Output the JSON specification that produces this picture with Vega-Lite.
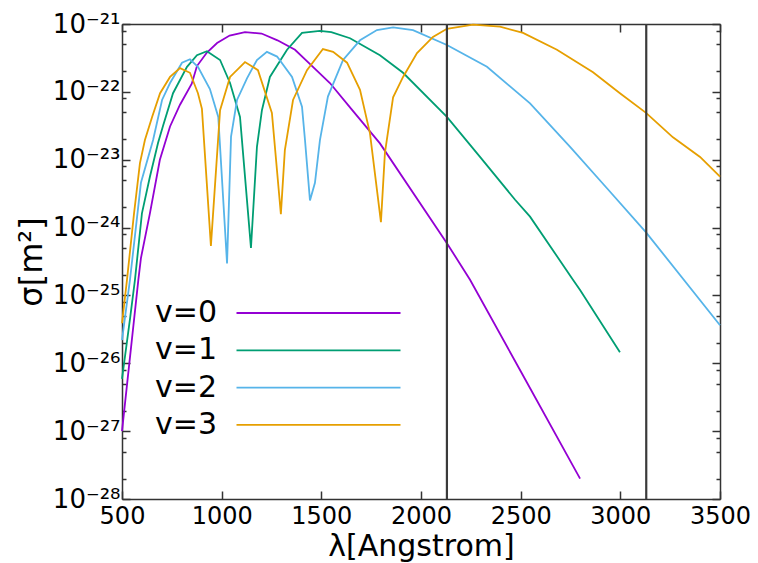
{
  "$schema": "https://vega.github.io/schema/vega-lite/v6.json",
  "width": 598,
  "height": 475,
  "autosize": {"type": "none"},
  "padding": {"left": 122, "top": 24, "right": 38, "bottom": 64},
  "background": "white",
  "config": {
    "view": {"stroke": null},
    "font": "DejaVu Sans",
    "axis": {
      "domainColor": "#333333", "domainWidth": 1.5,
      "tickColor": "#333333", "tickWidth": 1.5,
      "labelColor": "#000000", "titleColor": "#000000",
      "grid": false, "labelFont": "DejaVu Sans", "titleFont": "DejaVu Sans",
      "labelFontSize": 24, "titleFontSize": 30, "titleFontWeight": "normal",
      "labelOverlap": false, "labelFlush": false
    }
  },
  "datasets": {
    "curves": [
      {"v": "v=0", "lambda": 500, "sigma": 1.0e-27},
      {"v": "v=0", "lambda": 582, "sigma": 1.70e-25},
      {"v": "v=0", "lambda": 595, "sigma": 3.55e-25},
      {"v": "v=0", "lambda": 640, "sigma": 1.62e-24},
      {"v": "v=0", "lambda": 690, "sigma": 1.0e-23},
      {"v": "v=0", "lambda": 741, "sigma": 3.09e-23},
      {"v": "v=0", "lambda": 791, "sigma": 6.46e-23},
      {"v": "v=0", "lambda": 850, "sigma": 1.32e-22},
      {"v": "v=0", "lambda": 876, "sigma": 2.40e-22},
      {"v": "v=0", "lambda": 926, "sigma": 3.80e-22},
      {"v": "v=0", "lambda": 977, "sigma": 5.25e-22},
      {"v": "v=0", "lambda": 1040, "sigma": 6.76e-22},
      {"v": "v=0", "lambda": 1117, "sigma": 7.59e-22},
      {"v": "v=0", "lambda": 1200, "sigma": 7.24e-22},
      {"v": "v=0", "lambda": 1280, "sigma": 5.75e-22},
      {"v": "v=0", "lambda": 1368, "sigma": 4.17e-22},
      {"v": "v=0", "lambda": 1450, "sigma": 2.45e-22},
      {"v": "v=0", "lambda": 1543, "sigma": 1.35e-22},
      {"v": "v=0", "lambda": 1650, "sigma": 5.62e-23},
      {"v": "v=0", "lambda": 1794, "sigma": 1.74e-23},
      {"v": "v=0", "lambda": 2130, "sigma": 5.89e-25},
      {"v": "v=0", "lambda": 2246, "sigma": 1.70e-25},
      {"v": "v=0", "lambda": 2512, "sigma": 6.61e-27},
      {"v": "v=0", "lambda": 2798, "sigma": 2.0e-28},
      {"v": "v=1", "lambda": 500, "sigma": 5.89e-27},
      {"v": "v=1", "lambda": 540, "sigma": 4.47e-26},
      {"v": "v=1", "lambda": 565, "sigma": 1.70e-25},
      {"v": "v=1", "lambda": 600, "sigma": 1.62e-24},
      {"v": "v=1", "lambda": 640, "sigma": 5.62e-24},
      {"v": "v=1", "lambda": 681, "sigma": 1.78e-23},
      {"v": "v=1", "lambda": 706, "sigma": 3.16e-23},
      {"v": "v=1", "lambda": 756, "sigma": 9.55e-23},
      {"v": "v=1", "lambda": 826, "sigma": 2.34e-22},
      {"v": "v=1", "lambda": 876, "sigma": 3.47e-22},
      {"v": "v=1", "lambda": 926, "sigma": 3.98e-22},
      {"v": "v=1", "lambda": 992, "sigma": 2.95e-22},
      {"v": "v=1", "lambda": 1042, "sigma": 1.35e-22},
      {"v": "v=1", "lambda": 1092, "sigma": 4.27e-23},
      {"v": "v=1", "lambda": 1147, "sigma": 5.01e-25},
      {"v": "v=1", "lambda": 1177, "sigma": 1.55e-23},
      {"v": "v=1", "lambda": 1202, "sigma": 5.37e-23},
      {"v": "v=1", "lambda": 1242, "sigma": 1.66e-22},
      {"v": "v=1", "lambda": 1328, "sigma": 4.17e-22},
      {"v": "v=1", "lambda": 1403, "sigma": 7.41e-22},
      {"v": "v=1", "lambda": 1493, "sigma": 7.94e-22},
      {"v": "v=1", "lambda": 1550, "sigma": 7.59e-22},
      {"v": "v=1", "lambda": 1644, "sigma": 6.17e-22},
      {"v": "v=1", "lambda": 1794, "sigma": 3.47e-22},
      {"v": "v=1", "lambda": 1910, "sigma": 1.91e-22},
      {"v": "v=1", "lambda": 2130, "sigma": 4.27e-23},
      {"v": "v=1", "lambda": 2296, "sigma": 1.10e-23},
      {"v": "v=1", "lambda": 2472, "sigma": 2.57e-24},
      {"v": "v=1", "lambda": 2547, "sigma": 1.45e-24},
      {"v": "v=1", "lambda": 2758, "sigma": 1.78e-25},
      {"v": "v=1", "lambda": 2798, "sigma": 1.20e-25},
      {"v": "v=1", "lambda": 2998, "sigma": 1.45e-26},
      {"v": "v=2", "lambda": 500, "sigma": 2.19e-26},
      {"v": "v=2", "lambda": 540, "sigma": 1.70e-25},
      {"v": "v=2", "lambda": 595, "sigma": 4.57e-24},
      {"v": "v=2", "lambda": 656, "sigma": 1.95e-23},
      {"v": "v=2", "lambda": 701, "sigma": 7.59e-23},
      {"v": "v=2", "lambda": 741, "sigma": 1.35e-22},
      {"v": "v=2", "lambda": 801, "sigma": 2.69e-22},
      {"v": "v=2", "lambda": 841, "sigma": 3.02e-22},
      {"v": "v=2", "lambda": 881, "sigma": 2.34e-22},
      {"v": "v=2", "lambda": 941, "sigma": 1.10e-22},
      {"v": "v=2", "lambda": 983, "sigma": 4.27e-23},
      {"v": "v=2", "lambda": 1027, "sigma": 2.95e-25},
      {"v": "v=2", "lambda": 1047, "sigma": 2.19e-23},
      {"v": "v=2", "lambda": 1077, "sigma": 7.59e-23},
      {"v": "v=2", "lambda": 1127, "sigma": 1.58e-22},
      {"v": "v=2", "lambda": 1177, "sigma": 2.95e-22},
      {"v": "v=2", "lambda": 1227, "sigma": 3.89e-22},
      {"v": "v=2", "lambda": 1278, "sigma": 3.31e-22},
      {"v": "v=2", "lambda": 1353, "sigma": 1.66e-22},
      {"v": "v=2", "lambda": 1403, "sigma": 6.03e-23},
      {"v": "v=2", "lambda": 1418, "sigma": 1.95e-23},
      {"v": "v=2", "lambda": 1443, "sigma": 2.51e-24},
      {"v": "v=2", "lambda": 1468, "sigma": 4.57e-24},
      {"v": "v=2", "lambda": 1493, "sigma": 1.95e-23},
      {"v": "v=2", "lambda": 1533, "sigma": 8.51e-23},
      {"v": "v=2", "lambda": 1609, "sigma": 2.95e-22},
      {"v": "v=2", "lambda": 1694, "sigma": 5.75e-22},
      {"v": "v=2", "lambda": 1779, "sigma": 8.13e-22},
      {"v": "v=2", "lambda": 1860, "sigma": 8.91e-22},
      {"v": "v=2", "lambda": 1960, "sigma": 8.13e-22},
      {"v": "v=2", "lambda": 2130, "sigma": 4.90e-22},
      {"v": "v=2", "lambda": 2331, "sigma": 2.34e-22},
      {"v": "v=2", "lambda": 2547, "sigma": 6.76e-23},
      {"v": "v=2", "lambda": 2748, "sigma": 1.55e-23},
      {"v": "v=2", "lambda": 2933, "sigma": 3.80e-24},
      {"v": "v=2", "lambda": 3129, "sigma": 8.51e-25},
      {"v": "v=2", "lambda": 3500, "sigma": 3.63e-26},
      {"v": "v=3", "lambda": 500, "sigma": 3.89e-26},
      {"v": "v=3", "lambda": 525, "sigma": 1.70e-25},
      {"v": "v=3", "lambda": 560, "sigma": 1.58e-24},
      {"v": "v=3", "lambda": 590, "sigma": 8.91e-24},
      {"v": "v=3", "lambda": 615, "sigma": 1.95e-23},
      {"v": "v=3", "lambda": 651, "sigma": 4.27e-23},
      {"v": "v=3", "lambda": 691, "sigma": 9.55e-23},
      {"v": "v=3", "lambda": 741, "sigma": 1.66e-22},
      {"v": "v=3", "lambda": 791, "sigma": 2.24e-22},
      {"v": "v=3", "lambda": 841, "sigma": 1.91e-22},
      {"v": "v=3", "lambda": 881, "sigma": 9.55e-23},
      {"v": "v=3", "lambda": 901, "sigma": 5.62e-23},
      {"v": "v=3", "lambda": 946, "sigma": 5.37e-25},
      {"v": "v=3", "lambda": 992, "sigma": 5.37e-23},
      {"v": "v=3", "lambda": 1042, "sigma": 1.66e-22},
      {"v": "v=3", "lambda": 1117, "sigma": 2.75e-22},
      {"v": "v=3", "lambda": 1182, "sigma": 2.09e-22},
      {"v": "v=3", "lambda": 1252, "sigma": 4.90e-23},
      {"v": "v=3", "lambda": 1297, "sigma": 1.58e-24},
      {"v": "v=3", "lambda": 1317, "sigma": 1.38e-23},
      {"v": "v=3", "lambda": 1358, "sigma": 7.59e-23},
      {"v": "v=3", "lambda": 1428, "sigma": 2.09e-22},
      {"v": "v=3", "lambda": 1508, "sigma": 4.27e-22},
      {"v": "v=3", "lambda": 1559, "sigma": 3.89e-22},
      {"v": "v=3", "lambda": 1629, "sigma": 2.69e-22},
      {"v": "v=3", "lambda": 1694, "sigma": 1.07e-22},
      {"v": "v=3", "lambda": 1744, "sigma": 2.45e-23},
      {"v": "v=3", "lambda": 1799, "sigma": 1.20e-24},
      {"v": "v=3", "lambda": 1819, "sigma": 1.26e-23},
      {"v": "v=3", "lambda": 1860, "sigma": 8.32e-23},
      {"v": "v=3", "lambda": 1910, "sigma": 1.66e-22},
      {"v": "v=3", "lambda": 1980, "sigma": 3.72e-22},
      {"v": "v=3", "lambda": 2060, "sigma": 6.46e-22},
      {"v": "v=3", "lambda": 2130, "sigma": 8.51e-22},
      {"v": "v=3", "lambda": 2261, "sigma": 9.77e-22},
      {"v": "v=3", "lambda": 2396, "sigma": 9.12e-22},
      {"v": "v=3", "lambda": 2512, "sigma": 7.41e-22},
      {"v": "v=3", "lambda": 2682, "sigma": 4.17e-22},
      {"v": "v=3", "lambda": 2863, "sigma": 1.95e-22},
      {"v": "v=3", "lambda": 2998, "sigma": 9.55e-23},
      {"v": "v=3", "lambda": 3129, "sigma": 4.90e-23},
      {"v": "v=3", "lambda": 3264, "sigma": 2.14e-23},
      {"v": "v=3", "lambda": 3400, "sigma": 1.10e-23},
      {"v": "v=3", "lambda": 3500, "sigma": 5.62e-24}
    ],
    "edges": [{"lambda": 2130}, {"lambda": 3130}]
  },
  "layer": [
    {
      "data": {"name": "curves"},
      "transform": [{"filter": "datum.v === 'v=0' || datum.v === 'v=1'"}],
      "mark": {"type": "line", "strokeWidth": 1.8},
      "encoding": {
        "x": {
          "field": "lambda", "type": "quantitative",
          "scale": {"domain": [500, 3500], "nice": false, "zero": false},
          "axis": {
            "orient": "bottom", "title": "λ[Angstrom]",
            "values": [500, 1000, 1500, 2000, 2500, 3000, 3500],
            "format": "d", "tickSize": -8, "labelPadding": 13,
            "titleBaseline": "alphabetic", "titleY": 56
          }
        },
        "y": {
          "field": "sigma", "type": "quantitative",
          "scale": {"type": "log", "domain": [1e-28, 1e-21], "nice": false},
          "axis": {
            "orient": "left", "title": "σ[m²]",
            "values": [1e-28, 2e-28, 5e-28, 8e-28, 1e-27, 2e-27, 5e-27, 8e-27, 1e-26, 2e-26, 5e-26, 8e-26, 1e-25, 2e-25, 5e-25, 8e-25, 1e-24, 2e-24, 5e-24, 8e-24, 1e-23, 2e-23, 5e-23, 8e-23, 1e-22, 2e-22, 5e-22, 8e-22, 1e-21],
            "labelExpr": "abs(log(datum.value)/LN10 - round(log(datum.value)/LN10)) < 0.01 ? '10⁻²' + ['⁰','¹','²','³','⁴','⁵','⁶','⁷','⁸','⁹'][-round(log(datum.value)/LN10) - 20] : ''",
            "tickSize": {"condition": {"test": "abs(log(datum.value)/LN10 - round(log(datum.value)/LN10)) < 0.01", "value": -8}, "value": -4},
            "labelPadding": 10, "labelFontSize": 26,
            "titleAngle": -90, "titleAlign": "center", "titleBaseline": "alphabetic",
            "titleX": -81, "titleY": 237.5, "titleFontSize": 32
          }
        },
        "color": {
          "field": "v", "type": "nominal",
          "scale": {"domain": ["v=0", "v=1", "v=2", "v=3"], "range": ["#9400D3", "#009E73", "#56B4E9", "#E69F00"]},
          "legend": {
            "orient": "none", "legendX": 181.5, "legendY": 274, "direction": "vertical",
            "title": null, "symbolType": "M-10.25,0H10.25", "symbolSize": 256, "symbolStrokeWidth": 1.8,
            "rowPadding": 7.3, "padding": 0,
            "labelFontSize": 30, "labelFont": "DejaVu Sans", "labelColor": "#000000",
            "labelAlign": "right", "labelOffset": -116.5, "labelLimit": 0
          }
        }
      }
    },
    {
      "data": {"name": "curves"},
      "transform": [{"filter": "datum.v === 'v=2' || datum.v === 'v=3'"}],
      "mark": {"type": "line", "strokeWidth": 1.8},
      "encoding": {
        "x": {
          "field": "lambda", "type": "quantitative",
          "axis": {"orient": "top", "title": null, "labels": false, "values": [500, 1000, 1500, 2000, 2500, 3000, 3500], "tickSize": -8}
        },
        "y": {
          "field": "sigma", "type": "quantitative",
          "axis": {
            "orient": "right", "title": null, "labels": false,
            "values": [1e-28, 2e-28, 5e-28, 8e-28, 1e-27, 2e-27, 5e-27, 8e-27, 1e-26, 2e-26, 5e-26, 8e-26, 1e-25, 2e-25, 5e-25, 8e-25, 1e-24, 2e-24, 5e-24, 8e-24, 1e-23, 2e-23, 5e-23, 8e-23, 1e-22, 2e-22, 5e-22, 8e-22, 1e-21],
            "tickSize": {"condition": {"test": "abs(log(datum.value)/LN10 - round(log(datum.value)/LN10)) < 0.01", "value": -8}, "value": -4}
          }
        },
        "color": {"field": "v", "type": "nominal"}
      }
    },
    {
      "data": {"name": "edges"},
      "mark": {"type": "rule", "color": "#3a3a3a", "strokeWidth": 2.2},
      "encoding": {
        "x": {"field": "lambda", "type": "quantitative", "axis": null}
      }
    }
  ]
}
